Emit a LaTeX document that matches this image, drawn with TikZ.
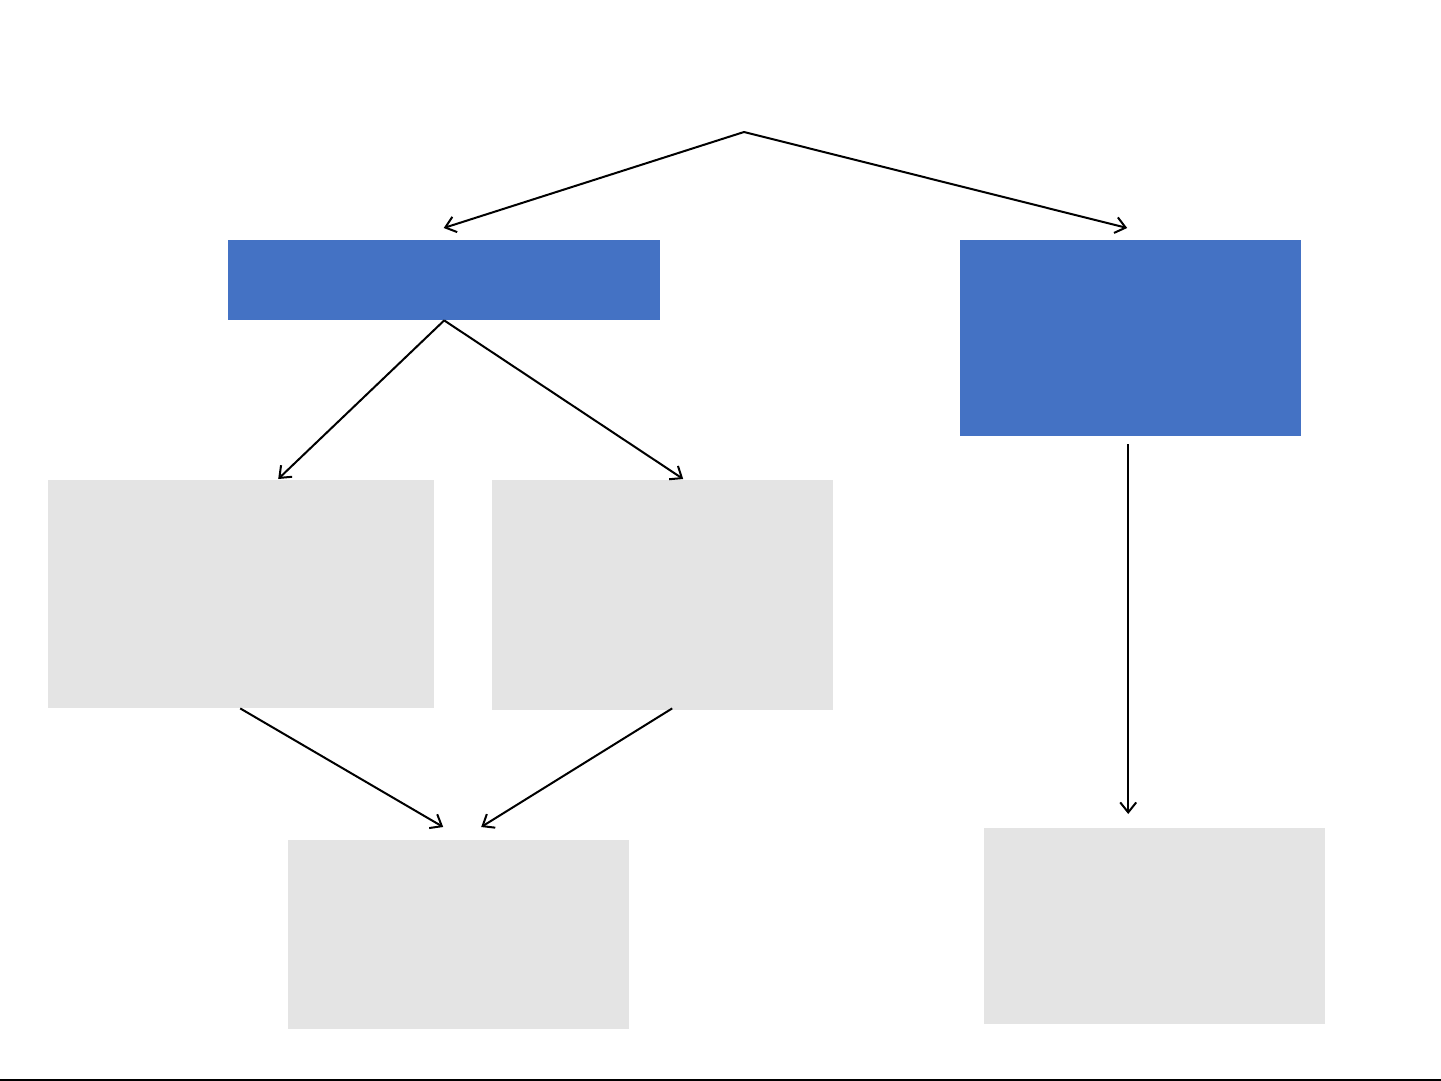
\documentclass[tikz,border=0pt]{standalone}
\usetikzlibrary{arrows.meta,calc}
\definecolor{boxblue}{HTML}{4472C4}
\definecolor{boxgray}{HTML}{E4E4E4}
\tikzset{
  bluebox/.style={fill=boxblue, draw=none, inner sep=0pt, anchor=north west},
  graybox/.style={fill=boxgray, draw=none, inner sep=0pt, anchor=north west},
  conn/.style={line width=2pt, -{Straight Barb[length=10pt,width=16pt,line width=2pt]}}
}
\begin{document}
\begin{tikzpicture}[x=1pt,y=-1pt]
\useasboundingbox (0,0) rectangle (1441,1081);
\node[bluebox, minimum width=432pt, minimum height=80pt] (b1) at (228,240) {};
\node[bluebox, minimum width=341pt, minimum height=196pt] (b2) at (960,240) {};
\node[graybox, minimum width=386pt, minimum height=228pt] (g1) at (48,480) {};
\node[graybox, minimum width=341pt, minimum height=230pt] (g2) at (492,480) {};
\node[graybox, minimum width=341pt, minimum height=189pt] (g3) at (288,840) {};
\node[graybox, minimum width=341pt, minimum height=196pt] (g4) at (984,828) {};
\coordinate (apex) at (744,132);
\draw[conn] (apex) -- ([xshift=-0.5pt,yshift=12pt]b1.north);
\draw[conn] (apex) -- ([xshift=-3.5pt,yshift=12pt]b2.north);
\draw[conn] (b1.south) -- ([xshift=37pt,yshift=1pt]g1.north);
\draw[conn] (b1.south) -- ([xshift=20.5pt,yshift=1pt]g2.north);
\draw[conn] ([xshift=-1pt]g1.south) -- ([xshift=-15.5pt,yshift=13pt]g3.north);
\draw[conn] ([xshift=9.5pt,yshift=2pt]g2.south) -- ([xshift=22.5pt,yshift=13pt]g3.north);
\draw[conn] ([xshift=-2.5pt,yshift=-8pt]b2.south) -- ([xshift=-26.5pt,yshift=14pt]g4.north);
\coordinate (bl) at (0,1080);
\coordinate (br) at (1441,1080);
\draw[line width=2pt] (bl) -- (br);
\end{tikzpicture}
\end{document}
